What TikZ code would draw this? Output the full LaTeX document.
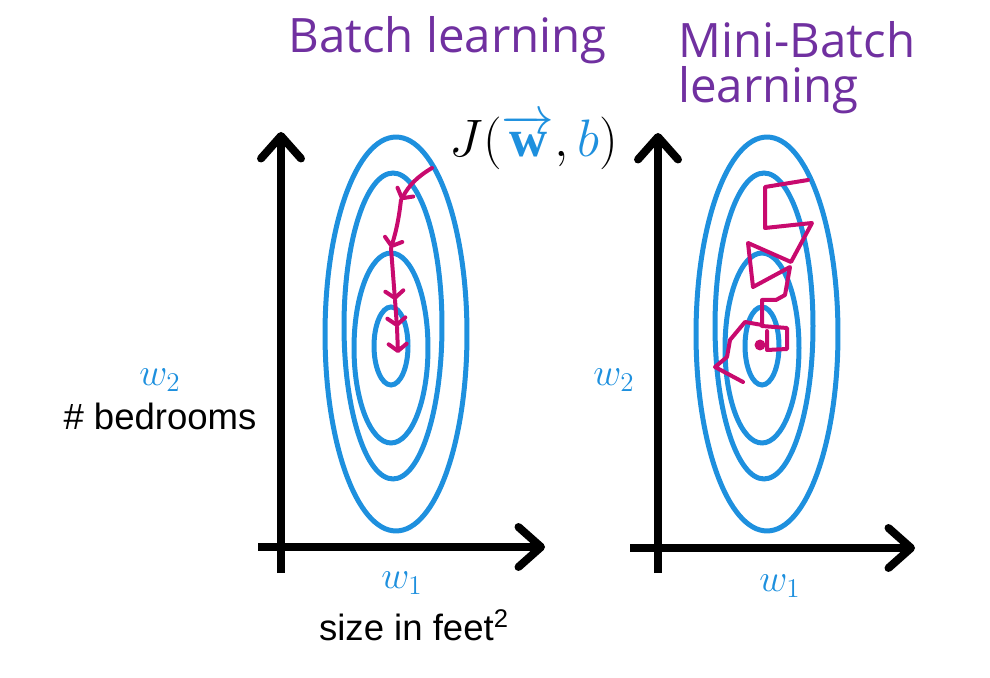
\RequirePackage{fix-cm}
\documentclass[tikz,border=0pt]{standalone}
\usepackage{fontspec}
\setmainfont{Liberation Sans}
\newfontfamily\titlefont{Open Sans}
\newfontfamily\serifb{Liberation Serif}
\usetikzlibrary{arrows.meta}
\definecolor{cblue}{RGB}{30,144,222}
\definecolor{cmag}{RGB}{200,10,110}
\definecolor{cpurple}{RGB}{112,48,160}
\tikzset{
  axis/.style={line width=0.16cm, -{Straight Barb[length=0.45cm,width=0.8cm,round]}},
  ell/.style={cblue, line width=0.1cm},
  mag/.style={cmag, line width=0.08cm, line cap=round, line join=round},
  magarr/.style={mag, -{Straight Barb[length=0.14cm,width=0.36cm,round]}},
  lbl/.style={font=\fontsize{20.8pt}{24pt}\selectfont, inner sep=0pt},
  wlbl/.style={text=cblue, font=\fontsize{22pt}{26pt}\selectfont, inner sep=0pt},
  ttl/.style={text=cpurple, font=\titlefont\fontsize{27pt}{32pt}\selectfont, inner sep=0pt, anchor=west}
}
\begin{document}
\begin{tikzpicture}[x=0.02cm,y=-0.02cm]
\useasboundingbox (0,0) rectangle (990,678);
% titles
\node[ttl] (t1) at (288,40) {Batch learning};
\node[ttl] (t2) at (678,40) {Mini-Batch};
\node[ttl] (t3) at (678,90) {learning};
% cost label
\node[inner sep=0pt, font=\fontsize{30pt}{34pt}\selectfont] (J) at (534,142) {$J(\textcolor{cblue}{\overrightarrow{\hbox{\serifb\bfseries w}}},\textcolor{cblue}{b})$};
% left ellipses
\draw[ell] (396,334) ellipse [x radius=1.42cm, y radius=3.94cm];
\draw[ell] (393,326) ellipse [x radius=0.98cm, y radius=3.06cm];
\draw[ell] (391,348) ellipse [x radius=0.74cm, y radius=1.9cm];
\draw[ell] (391,346) ellipse [x radius=0.34cm, y radius=0.78cm];
% right ellipses
\draw[ell] (767,334) ellipse [x radius=1.42cm, y radius=3.94cm];
\draw[ell] (764,326) ellipse [x radius=0.98cm, y radius=3.06cm];
\draw[ell] (762,348) ellipse [x radius=0.74cm, y radius=1.9cm];
\draw[ell] (762,346) ellipse [x radius=0.34cm, y radius=0.78cm];
% left axes
\coordinate (lo1) at (281,573);
\coordinate (ly) at (281,132);
\coordinate (lo2) at (258,547);
\coordinate (lx) at (545,547);
\draw[axis] (lo1) -- (ly);
\draw[axis] (lo2) -- (lx);
% right axes
\coordinate (ro1) at (658,573);
\coordinate (ry) at (658,133);
\coordinate (ro2) at (630,548);
\coordinate (rx) at (915,548);
\draw[axis] (ro1) -- (ry);
\draw[axis] (ro2) -- (rx);
% labels
\node[wlbl] (lw2) at (160,380) {$w_2$};
\node[lbl] (lbed) at (160,416) {\# bedrooms};
\node[wlbl] (lw1) at (402,583) {$w_1$};
\node[lbl] (lsize) at (414,625) {size in feet\textsuperscript{2}};
\node[wlbl] (rw2) at (614,380) {$w_2$};
\node[wlbl] (rw1) at (780,586) {$w_1$};
% batch path
\coordinate (p0) at (432,168);
\coordinate (p1) at (401,200);
\coordinate (p2) at (391,248);
\coordinate (p3) at (395,300);
\coordinate (p4) at (397,327);
\coordinate (p5) at (398,353);
\draw[magarr] (p0) to[bend right=15] (p1);
\draw[magarr] (p1) to[bend left=5] (p2);
\draw[magarr] (p2) -- (p3);
\draw[magarr] (p3) -- (p4);
\draw[magarr] (p4) -- (p5);
% mini-batch path
\draw[mag] (808,180) -- (765,187) -- (765,228) -- (812,223) -- (791,262) -- (748,243)
  -- (753,287) -- (790,267) -- (785,295) -- (776,300) -- (762,300) -- (762,325)
  -- (745,322) -- (730,340) -- (727,357) -- (715,367) -- (743,382);
\draw[mag] (762,326) -- (787,328) -- (787,349) -- (767,350) -- (767,331);
\fill[cmag] (760,345) circle [radius=0.11cm];
\end{tikzpicture}
\end{document}
